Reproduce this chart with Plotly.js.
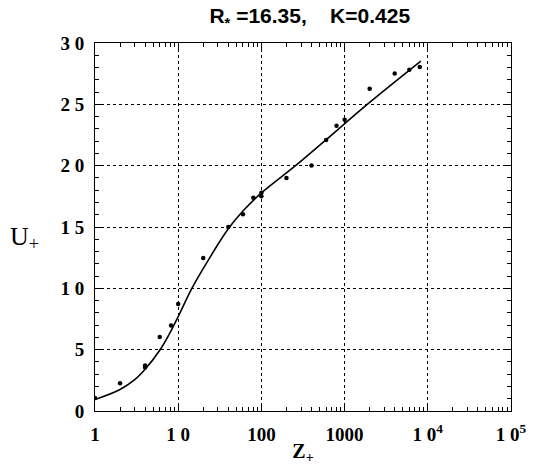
<!DOCTYPE html>
<html>
<head>
<meta charset="utf-8">
<script src="https://cdn.plot.ly/plotly-3.0.1.min.js"></script>
<style>html,body{margin:0;padding:0;background:#fff}</style>
</head>
<body>
<div id="chart" style="width:535px;height:468px"></div>
<script>
// measured points
const zPoints = [1, 2, 4, 4, 6, 8.2, 10, 20, 40, 60, 80, 100, 100, 200, 400, 600, 800, 1000, 2000, 4000, 6000, 8000];
const uPoints = [1.06, 2.26, 3.55, 3.7, 6.03, 6.96, 8.72, 12.47, 15.0, 16.03, 17.39, 17.5, 17.8, 18.99, 20.02, 22.1, 23.26, 23.75, 26.27, 27.52, 27.82, 28.04];
// fitted curve
const zCurve = [1, 2, 3, 4, 6, 8, 10, 14.6, 23, 40, 60, 97, 257, 550, 1870, 8240];
const uCurve = [0.93, 1.75, 2.55, 3.4, 4.95, 6.4, 7.7, 10.0, 12.3, 14.85, 16.3, 17.7, 20.0, 21.9, 25.0, 28.53];
// axis ticks
const xTickVals = [1, 10, 100, 1000, 10000, 100000];
const xTickText = ['1', '1 0', '100', '1000', '1 0<sup>4</sup>', '1 0<sup>5</sup>'];
const xMinorVals = [2,3,4,5,6,7,8,9,20,30,40,50,60,70,80,90,200,300,400,500,600,700,800,900,2000,3000,4000,5000,6000,7000,8000,9000,20000,30000,40000,50000,60000,70000,80000,90000];
const yTickVals = [0, 5, 10, 15, 20, 25, 30];
const yTickText = ['0', '5', '1 0', '1 5', '2 0', '2 5', '3 0'];

const tickFont = {family: 'Liberation Serif, Times New Roman, serif', size: 19, color: '#000', weight: 'bold'};

const traces = [
  {x: zCurve, y: uCurve, mode: 'lines', line: {color: '#000', width: 1.6, shape: 'spline', smoothing: 1.0}, hoverinfo: 'skip', showlegend: false},
  {x: zPoints, y: uPoints, mode: 'markers', marker: {color: '#000', size: 4.5}, showlegend: false}
];

const layout = {
  width: 535, height: 468,
  margin: {l: 95, r: 24, t: 43, b: 57},
  paper_bgcolor: '#fff', plot_bgcolor: '#fff',
  showlegend: false,
  title: {text: 'R<sub>*</sub> =16.35,&nbsp;&nbsp;&nbsp;&nbsp;K=0.425', x: 0.579, xanchor: 'center', y: 0.966, yanchor: 'middle',
          font: {family: 'Liberation Sans, Arial, sans-serif', size: 21, color: '#000', weight: 'bold'}},
  xaxis: {
    type: 'log', range: [0, 5], tickmode: 'array', tickvals: xTickVals, ticktext: xTickText,
    showline: true, linecolor: '#000', linewidth: 1, mirror: 'ticks',
    ticks: 'inside', ticklen: 8, tickcolor: '#000', tickwidth: 1,
    showgrid: true, gridcolor: '#000', gridwidth: 1, griddash: 'dot',
    zeroline: false, tickfont: tickFont, ticklabelstandoff: 6,
    minor: {tickmode: 'array', tickvals: xMinorVals, ticks: 'inside', ticklen: 4, tickcolor: '#000', showgrid: false},
    title: {text: 'Z<sub>+</sub>', font: {family: 'Liberation Serif, Times New Roman, serif', size: 20, color: '#000', weight: 'bold'}, standoff: 0}
  },
  yaxis: {
    range: [0, 30], tickmode: 'array', tickvals: yTickVals, ticktext: yTickText,
    showline: true, linecolor: '#000', linewidth: 1, mirror: 'ticks',
    ticks: 'inside', ticklen: 8, tickcolor: '#000', tickwidth: 1,
    showgrid: true, gridcolor: '#000', gridwidth: 1, griddash: 'dot',
    zeroline: false, tickfont: tickFont, ticklabelstandoff: 6,
    minor: {dtick: 1, ticks: 'inside', ticklen: 4, tickcolor: '#000', showgrid: false}
  },
  annotations: [
    {text: 'U<sub>+</sub>', xref: 'paper', yref: 'paper', x: -0.17, y: 0.47, xanchor: 'center', yanchor: 'middle', showarrow: false,
     font: {family: 'Liberation Serif, Times New Roman, serif', size: 26, color: '#000'}}
  ]
};

Plotly.newPlot('chart', traces, layout, {displayModeBar: false, staticPlot: true});
</script>
</body>
</html>
